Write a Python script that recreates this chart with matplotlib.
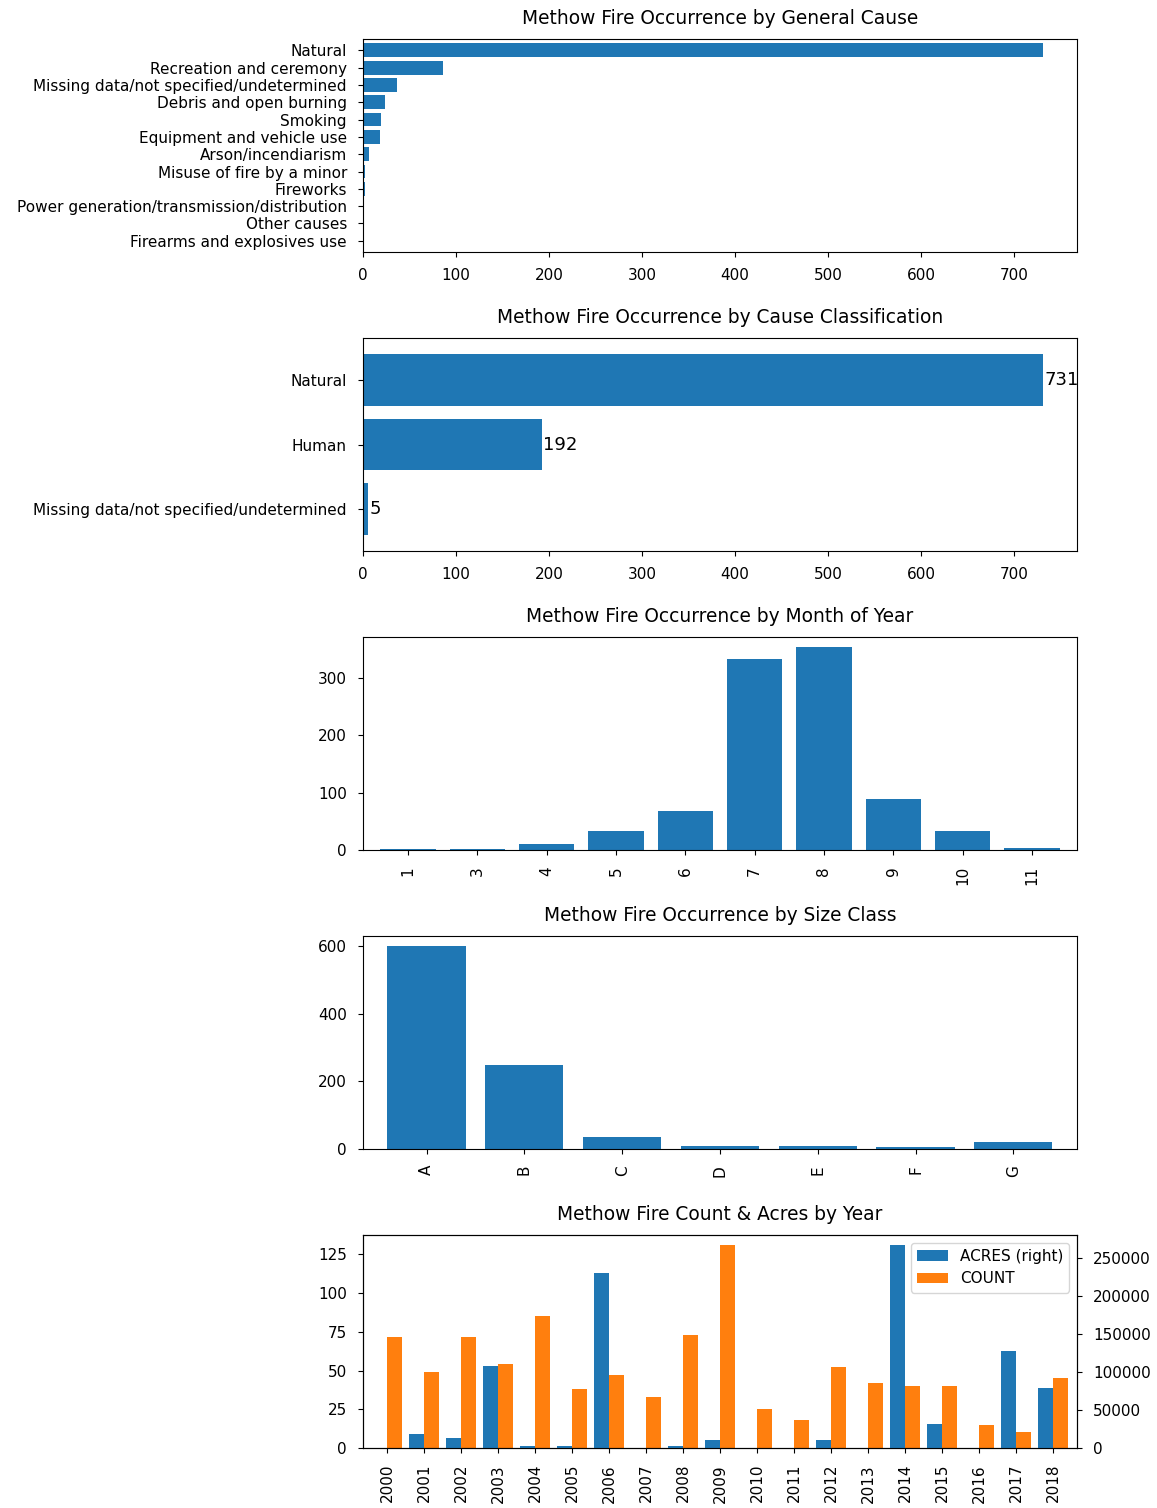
import numpy as np
import matplotlib
import matplotlib.pyplot as plt

matplotlib.use('Agg')

# general cause counts (top to bottom)
cause_names = ['Natural', 'Recreation and ceremony', 'Missing data/not specified/undetermined',
               'Debris and open burning', 'Smoking', 'Equipment and vehicle use',
               'Arson/incendiarism', 'Misuse of fire by a minor', 'Fireworks',
               'Power generation/transmission/distribution', 'Other causes',
               'Firearms and explosives use']
cause_counts = [731, 86, 37, 24, 19, 18, 6, 2, 2, 1, 1, 1]

# cause classification
class_names = ['Natural', 'Human', 'Missing data/not specified/undetermined']
class_counts = [731, 192, 5]

# month of year
months = ['1', '3', '4', '5', '6', '7', '8', '9', '10', '11']
month_counts = [1, 1, 11, 34, 68, 333, 354, 89, 34, 4]

# size class
size_classes = ['A', 'B', 'C', 'D', 'E', 'F', 'G']
size_counts = [600, 249, 36, 8, 8, 7, 20]

# count & acres by year
years = ['2000', '2001', '2002', '2003', '2004', '2005', '2006', '2007', '2008', '2009',
         '2010', '2011', '2012', '2013', '2014', '2015', '2016', '2017', '2018']
year_acres = [0, 18700, 13500, 107900, 3000, 3000, 230300, 0, 2500, 10900,
              0, 0, 10900, 0, 267500, 31500, 0, 127500, 79500]
year_counts = [72, 49, 72, 54, 85, 38, 47, 33, 73, 131,
               25, 18, 52, 42, 40, 40, 15, 10, 45]

BLUE = '#1f77b4'
ORANGE = '#ff7f0e'
TICK = 11
TITLE = 13.4
PAD = 8
TPAD = 11


def pandas_lim(n):
    # same edges pandas uses for bar plots with width 0.8
    return -0.65, n - 1 + 0.65


def plot_general(ax):
    y = np.arange(len(cause_names))
    ax.barh(y, cause_counts, height=0.8, color=BLUE)
    ax.set_yticks(y)
    ax.set_yticklabels(cause_names)
    lo, hi = pandas_lim(len(cause_names))
    ax.set_ylim(hi, lo)
    ax.set_title('Methow Fire Occurrence by General Cause', fontsize=TITLE, pad=TPAD)


def plot_classification(ax):
    y = np.arange(len(class_names))
    ax.barh(y, class_counts, height=0.8, color=BLUE)
    ax.set_yticks(y)
    ax.set_yticklabels(class_names)
    lo, hi = pandas_lim(len(class_names))
    ax.set_ylim(hi, lo)
    for i, v in enumerate(class_counts):
        ax.text(v + 2, i, str(v), va='center', fontsize=13)
    ax.set_title('Methow Fire Occurrence by Cause Classification', fontsize=TITLE, pad=TPAD)


def plot_vbars(ax, labels, values, title):
    x = np.arange(len(labels))
    ax.bar(x, values, width=0.8, color=BLUE)
    ax.set_xticks(x)
    ax.set_xticklabels(labels, rotation=90)
    ax.set_xlim(*pandas_lim(len(labels)))
    ax.set_title(title, fontsize=TITLE, pad=TPAD)


def plot_years(ax):
    x = np.arange(len(years))
    ax2 = ax.twinx()
    b1 = ax2.bar(x - 0.2, year_acres, width=0.4, color=BLUE, label='ACRES (right)')
    b2 = ax.bar(x + 0.2, year_counts, width=0.4, color=ORANGE, label='COUNT')
    ax.set_xticks(x)
    ax.set_xticklabels(years, rotation=90)
    ax.set_xlim(*pandas_lim(len(years)))
    ax2.ticklabel_format(axis='y', style='plain', useOffset=False)
    ax2.tick_params(labelsize=TICK, pad=PAD)
    ax2.set_yticks([0, 50000, 100000, 150000, 200000, 250000])
    ax2.legend([b1, b2], ['ACRES (right)', 'COUNT'], loc='upper right', fontsize=TICK)
    ax.set_title('Methow Fire Count & Acres by Year', fontsize=TITLE, pad=TPAD)


def main():
    plt.rcParams['font.size'] = TICK
    fig, axes = plt.subplots(5, 1, figsize=(11.57, 15.08), dpi=100)
    fig.subplots_adjust(left=0.3137, right=0.9308, top=0.9741, bottom=0.0398, hspace=0.404)

    plot_general(axes[0])
    plot_classification(axes[1])
    plot_vbars(axes[2], months, month_counts, 'Methow Fire Occurrence by Month of Year')
    plot_vbars(axes[3], size_classes, size_counts, 'Methow Fire Occurrence by Size Class')
    axes[3].set_yticks([0, 200, 400, 600])
    plot_years(axes[4])

    for ax in axes:
        ax.tick_params(labelsize=TICK, pad=PAD)

    plt.savefig('out.png')


if __name__ == "__main__":
    main()
